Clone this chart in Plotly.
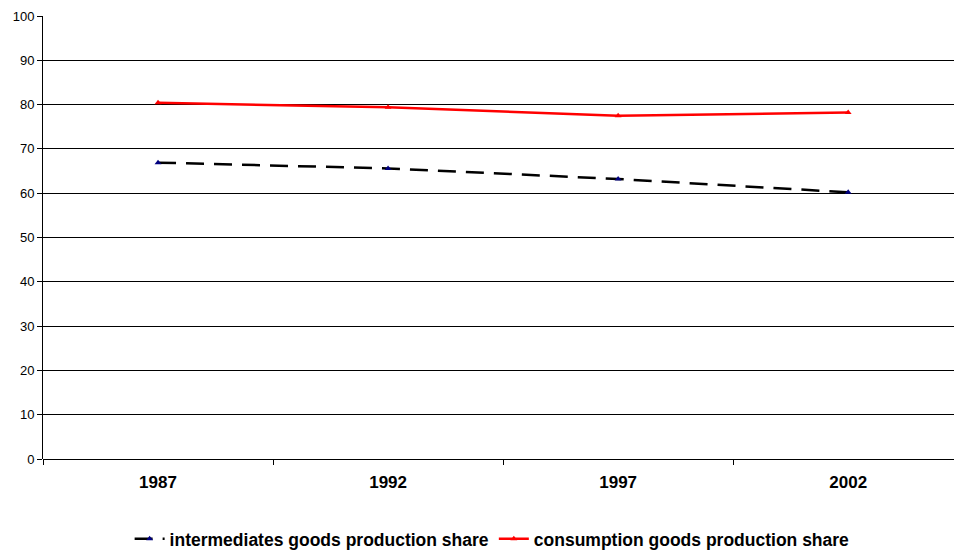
import plotly.graph_objects as go

years = ["1987", "1992", "1997", "2002"]
intermediates = [66.9, 65.6, 63.2, 60.2]
consumption = [80.4, 79.4, 77.5, 78.2]
y_ticks = [0, 10, 20, 30, 40, 50, 60, 70, 80, 90, 100]

FONT = "Liberation Sans, Arial, sans-serif"

fig = go.Figure()
fig.add_trace(go.Scatter(
    x=years, y=intermediates, mode="lines+markers",
    name="intermediates goods production share",
    line=dict(color="black", width=2.5, dash="18px,10px"),
    marker=dict(symbol="triangle-up", size=6, color="#000080"),
))
fig.add_trace(go.Scatter(
    x=years, y=consumption, mode="lines+markers",
    name="consumption goods production share",
    line=dict(color="#ff0000", width=2.5),
    marker=dict(symbol="triangle-up", size=6, color="#ff0000"),
))

fig.update_layout(
    width=954, height=551,
    margin=dict(l=43, r=0, t=16, b=92, autoexpand=False),
    plot_bgcolor="white", paper_bgcolor="white",
    font=dict(family=FONT, color="black", size=13),
    showlegend=True,
    legend=dict(orientation="h", x=0.493, xanchor="center",
                yref="container", y=0.022, yanchor="middle",
                font=dict(size=17.5, family=FONT, weight="bold"),
                itemwidth=30, tracegroupgap=0),
)
fig.update_xaxes(
    type="category", range=[-0.5, 3.46], automargin=False,
    tickson="boundaries", ticks="outside", ticklen=5, tickcolor="black",
    showgrid=False, showline=False, zeroline=False,
    tickfont=dict(size=17, family=FONT, weight="bold"),
    ticklabelstandoff=11,
)
fig.update_yaxes(
    range=[0, 100], tickvals=y_ticks, automargin=False,
    ticks="outside", ticklen=5, tickcolor="black",
    showgrid=True, gridcolor="black", gridwidth=1,
    showline=True, linecolor="black", linewidth=1,
    zeroline=True, zerolinecolor="black", zerolinewidth=1,
    tickfont=dict(size=13),
)
fig.write_html("out.html", config={"displayModeBar": False},
               post_script="document.body.style.margin='0';document.body.style.overflow='hidden';")
